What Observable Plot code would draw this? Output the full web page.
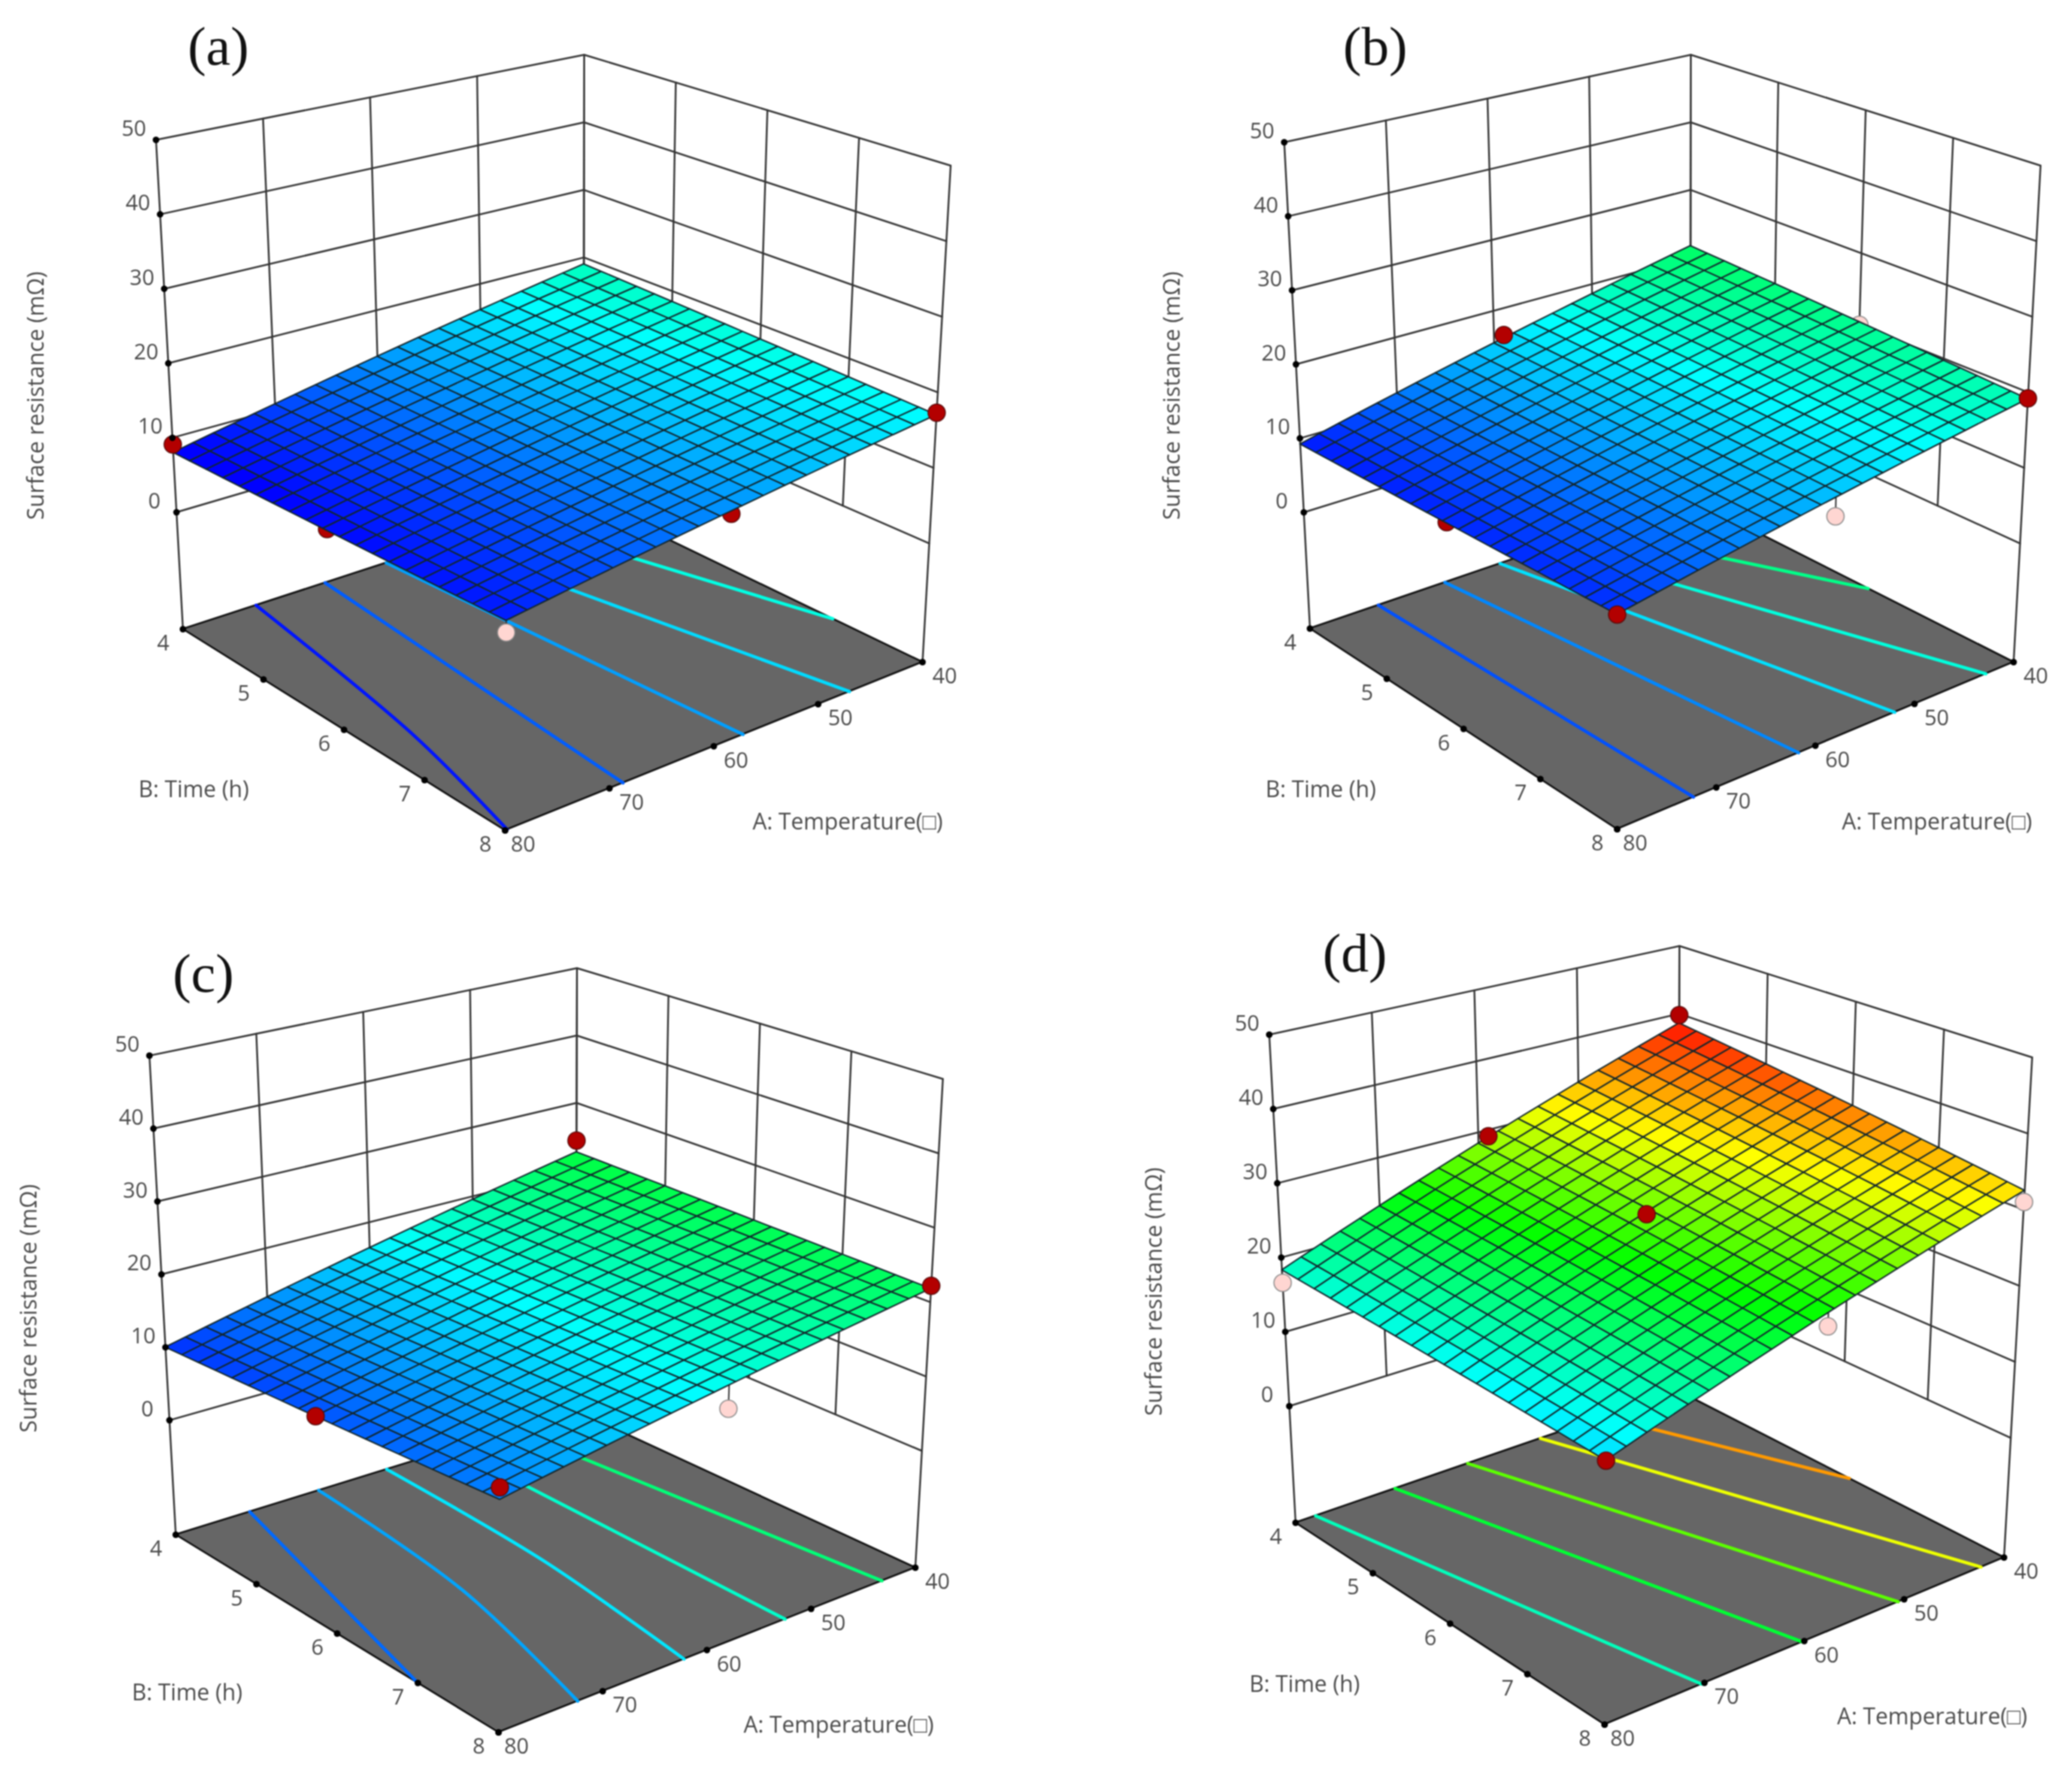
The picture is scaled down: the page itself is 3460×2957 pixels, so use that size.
<!DOCTYPE html>
<html>
<head>
<meta charset="utf-8">
<script src="https://cdn.jsdelivr.net/npm/d3@7"></script>
<script src="https://cdn.jsdelivr.net/npm/@observablehq/plot@0.6"></script>
<style>
html,body{margin:0;padding:0;background:#fff}
svg{display:block;max-width:none;filter:blur(1px)}
</style>
</head>
<body>
<div id="chart"></div>
<script>
// ---- Data -----------------------------------------------------------------
const panelLetters = ["(a)", "(b)", "(c)", "(d)"];
const temperatureTicks = [40, 50, 60, 70, 80];
const timeTicks = [4, 5, 6, 7, 8];
const resistanceTicks = [0, 10, 20, 30, 40, 50];
const resistanceFloor = -15.7;

// Fitted response at [A80 B4, A40 B4, A40 B8, A80 B8]
const surfaceA = [8, 19, 17, 9.3];
const surfaceB = [9.2, 21.7, 19.1, 10];
const surfaceC = [10, 22.7, 21.8, 12.6];
const surfaceD = [18.3, 38.6, 32.5, 15.7];

// Floor contours: level, then [temperature, time] knots
const contoursA = [
  [9.2, [[72.7,4],[76.3,6.4],[79.8,8]]],
  [11.6, [[65.8,4],[68.7,8]]],
  [13.8, [[59.7,4],[57.2,8]]],
  [15.8, [[53.8,4],[47,8]]],
  [17.8, [[47,4],[40,6.94]]]
];
const contoursB = [
  [11.2, [[72.8,4],[72.3,8]]],
  [13, [[65.8,4],[61.7,8]]],
  [16, [[60,4],[52,8]]],
  [18, [[55,4],[42.8,8]]],
  [20.5, [[50,4],[40,6.2]]]
];
const contoursC = [
  [12, [[72.6,4],[80,7]]],
  [14, [[65.7,4],[67.8,6],[72.4,8]]],
  [16.2, [[58.9,4],[59.8,6],[62.2,8]]],
  [18.5, [[52.2,4],[52.5,8]]],
  [21, [[46.2,4],[43.2,8]]]
];
const contoursD = [
  [19, [[77.9,4],[70.3,8]]],
  [23, [[69.6,4],[60.2,8]]],
  [27, [[62,4],[50.6,8]]],
  [31, [[54.4,4],[42.3,8]]],
  [34.5, [[47.8,4],[40,6.1]]]
];

// Design points: temperature, time, resistance, red or pink, in front of the surface
const pointsA = [[80,4,9.1,"red",true],[40,8,17.3,"red",true],[80,5.85,8.8,"red",false],[59,8,13,"red",false],[80,8,7.9,"pink",false]];
const pointsB = [[59,4,16.2,"red",true],[80,5.85,9.7,"red",false],[80,8,10,"red",true],[40,8,19.2,"red",true],[58.6,8,12.5,"pink",false],[40,6,20,"pink",false]];
const pointsC = [[40,4,24.4,"red",true],[40,8,22.2,"red",true],[80,5.8,11.2,"red",true],[80,8,14.1,"red",true],[58.65,8,14.5,"pink",false]];
const pointsD = [[40,4,39.8,"red",true],[59,4,29.1,"red",true],[60,6,28.6,"red",true],[80,4,16.6,"pink",false],[40,8,31,"pink",false],[58.6,8,23,"pink",false],[80,8,15.7,"red",true]];

const colorStops = [8.5, 17, 24.5, 31.5, 39];
const colorRange = ["#0000ff", "#00ffff", "#00ff00", "#ffff00", "#ff0000"];

// ---- View of each 3D box: where its eight corners fall on the page ----------
const views = [
 {surface:surfaceA, contours:contoursA, points:pointsA,
  floor:[[305,1050],[974,832],[1540,1105],[843,1386]], top:[[260,233],[975,91],[1587,276],[848,466]],
  letter:[364,78], zTitle:[60,660], bTitle:[323,1318], aTitle:[1415,1372]},
 {surface:surfaceB, contours:contoursB, points:pointsB,
  floor:[[2187,1049],[2822,832],[3362,1105],[2700,1384]], top:[[2144,237],[2823,91],[3407,276],[2700,468]],
  letter:[2296,78], zTitle:[1957,660], bTitle:[2205,1318], aTitle:[3234,1372]},
 {surface:surfaceC, contours:contoursC, points:pointsC,
  floor:[[293,2562],[961,2355],[1528,2617],[832,2892]], top:[[249,1762],[963,1616],[1574,1801],[837,1990]],
  letter:[339,1626], zTitle:[48,2184], bTitle:[312,2826], aTitle:[1400,2880]},
 {surface:surfaceD, contours:contoursD, points:pointsD,
  floor:[[2163,2542],[2802,2322],[3346,2600],[2679,2879]], top:[[2119,1727],[2804,1579],[3393,1765],[2684,1957]],
  letter:[2262,1592], zTitle:[1927,2156], bTitle:[2178,2812], aTitle:[3226,2866]}
];

const lerp = (p, q, t) => [p[0] + (q[0] - p[0]) * t, p[1] + (q[1] - p[1]) * t];
const bilerp = (c, u, v) => lerp(lerp(c[0], c[1], u), lerp(c[3], c[2], u), v);
const uOf = A => (80 - A) / 40;
const vOf = B => (B - 4) / 4;
const tOf = Z => (Z - resistanceFloor) / (50 - resistanceFloor);
function project(view, A, B, Z) {
  const f = bilerp(view.floor, uOf(A), vOf(B));
  const t = bilerp(view.top, uOf(A), vOf(B));
  return lerp(f, t, tOf(Z));
}
const surfaceValue = (s, A, B) => {
  const u = uOf(A), v = vOf(B);
  const a = s[0] + (s[1] - s[0]) * u, b = s[3] + (s[2] - s[3]) * u;
  return a + (b - a) * v;
};

const cells = 20;
const fontFamily = "'Open Sans','Noto Sans',sans-serif";
const labelFill = "#4a4a4a";

function quad(rows, id, value, p00, p10, p01, p11) {
  rows.push({id, value, x1: p00[0], y1: p00[1], x2: p01[0], y2: p01[1]});
  rows.push({id, value, x1: p10[0], y1: p10[1], x2: p11[0], y2: p11[1]});
}
const areaOf = (rows, options) => Plot.area(rows, {x1:"x1", y1:"y1", x2:"x2", y2:"y2", z:"id", ...options});
const poly = (pts, options) => Plot.line(pts, {x: d => d[0], y: d => d[1], ...options});

function panelMarks(view, index) {
  const marks = [];
  const zMin = resistanceFloor, zMax = 50;
  const wall = {stroke:"#333333", strokeWidth:3};

  // back walls: the grid stops at 0, only the three box edges reach the floor
  for (const A of temperatureTicks) marks.push(poly([project(view,A,4,A === 40 || A === 80 ? zMin : 0),project(view,A,4,zMax)], wall));
  for (const B of timeTicks) marks.push(poly([project(view,40,B,B === 8 ? zMin : 0),project(view,40,B,zMax)], wall));
  for (const Z of resistanceTicks) {
    marks.push(poly([project(view,80,4,Z),project(view,40,4,Z),project(view,40,8,Z)], wall));
  }

  // floor
  const floorRows = [];
  quad(floorRows, 0, 0, project(view,80,4,zMin), project(view,40,4,zMin), project(view,80,8,zMin), project(view,40,8,zMin));
  marks.push(areaOf(floorRows, {fill:"#666666", stroke:"#111111", strokeWidth:3.2}));

  // contours on the floor
  view.contours.forEach(([level, knots]) => {
    marks.push(Plot.line(knots.map(k => ({p: project(view,k[0],k[1],zMin), level})), {
      x: d => d.p[0], y: d => d.p[1], stroke: d => d.level, strokeWidth: 5.5, curve: "catmull-rom"
    }));
  });

  const dot = (pts) => Plot.dot(pts.map(p => ({p: project(view,p[0],p[1],p[2]), red: p[3] === "red"})), {
    x: d => d.p[0], y: d => d.p[1], r: 14.5,
    fill: d => d.red ? "#b30000" : "#ffd6d2",
    stroke: d => d.red ? "#5a0c0c" : "#8a8a8a",
    strokeWidth: 1.8
  });
  const stemColor = {stroke:"#333333", strokeWidth:2.4};
  // drop lines and points that sit behind the surface
  const behind = view.points.filter(p => !p[4]);
  for (const p of behind) if (p[3] === "pink") {
    marks.push(poly([project(view,p[0],p[1],p[2]), project(view,p[0],p[1],surfaceValue(view.surface,p[0],p[1]))], stemColor));
  }
  marks.push(dot(behind));

  // response surface
  const rows = [];
  const at = (i, j) => {
    const A = 80 - 40 * i / cells, B = 4 + 4 * j / cells;
    return project(view, A, B, surfaceValue(view.surface, A, B));
  };
  for (let i = 0; i < cells; ++i) for (let j = 0; j < cells; ++j) {
    const A = 80 - 40 * (i + .5) / cells, B = 4 + 4 * (j + .5) / cells;
    quad(rows, i * cells + j, surfaceValue(view.surface, A, B), at(i,j), at(i+1,j), at(i,j+1), at(i+1,j+1));
  }
  marks.push(areaOf(rows, {fill: d => d.value, stroke:"#12262c", strokeWidth:2.4, strokeLinejoin:"round"}));

  marks.push(dot(view.points.filter(p => p[4])));

  // tick dots and labels
  const zPts = resistanceTicks.map(Z => ({p: project(view,80,4,Z), label:Z}));
  const aPts = temperatureTicks.map(A => ({p: project(view,A,8,zMin), label:A, nudge: A === 80 ? -7 : 0}));
  const bPts = timeTicks.map(B => ({p: project(view,80,B,zMin), label:B}));
  for (const pts of [zPts, aPts, bPts]) {
    marks.push(Plot.dot(pts, {x:d=>d.p[0], y:d=>d.p[1], r:5.5, fill:"#000"}));
  }
  const tickText = (pts, dx, dy) => Plot.text(pts, {
    x:d=>d.p[0] + (d.nudge || 0), y:d=>d.p[1], text:d=>String(d.label), dx, dy,
    fontFamily, fontSize:36, fill:labelFill, textAnchor:"middle"
  });
  marks.push(tickText(zPts, -37, -18), tickText(aPts, 37, 24), tickText(bPts, -33, 24));

  // titles
  const title = (pos, text, extra={}) => Plot.text([pos], {
    x:d=>d[0], y:d=>d[1], text:()=>text, fontFamily, fontSize:37.5, fill:labelFill, textAnchor:"middle", ...extra
  });
  marks.push(title(view.zTitle, "Surface resistance (mΩ)", {rotate:-90}));
  marks.push(title(view.bTitle, "B: Time (h)"));
  marks.push(title(view.aTitle, "A: Temperature(□)"));
  marks.push(title(view.letter, panelLetters[index], {fontFamily:"'Liberation Serif',serif", fontSize:92, fill:"#111"}));
  return marks;
}

const plot = Plot.plot({
  width: 3460, height: 2957, margin: 0,
  x: {domain:[0,3460], axis:null},
  y: {domain:[2957,0], axis:null},
  color: {type:"linear", domain:colorStops, range:colorRange, clamp:true},
  style: {background:"#fff"},
  marks: views.flatMap(panelMarks)
});
document.getElementById("chart").appendChild(plot);
</script>
</body>
</html>
